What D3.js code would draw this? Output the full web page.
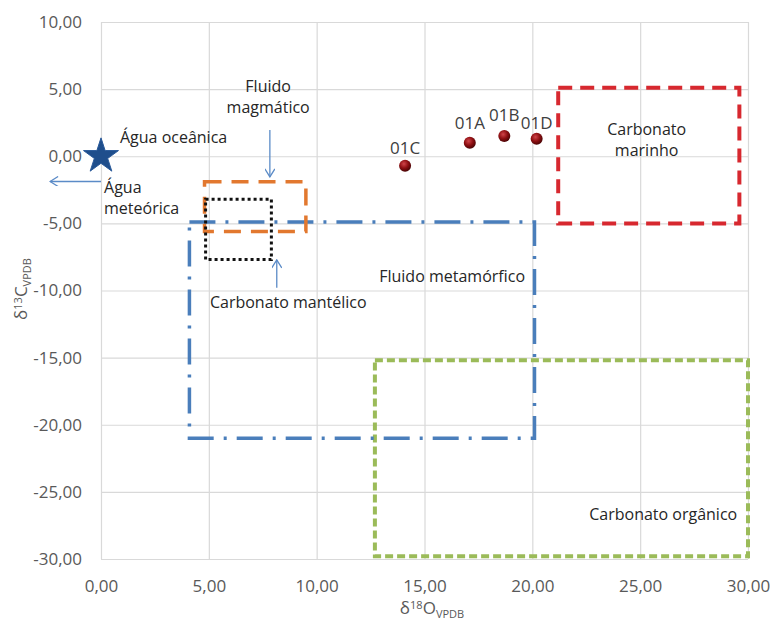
<!DOCTYPE html>
<html>
<head>
<meta charset="utf-8">
<script src="https://cdn.jsdelivr.net/npm/d3@7"></script>
<style>
  body { margin: 0; background: #fff; }
  text { font-family: "Open Sans", "Noto Sans", sans-serif; }
</style>
</head>
<body>
<div class="chart"></div>
<script>
// axis ticks
const xTicks = [0, 5, 10, 15, 20, 25, 30];
const yTicks = [10, 5, 0, -5, -10, -15, -20, -25, -30];

// samples (d18O, d13C)
const sampleNames = ["01C", "01A", "01B", "01D"];
const sampleO = [14.1, 17.1, 18.7, 20.2];
const sampleC = [-0.7, 1.0, 1.5, 1.3];

// reference fields (boxes)
const fieldNames = ["Carbonato marinho", "Carbonato orgânico", "Fluido metamórfico", "Fluido magmático", "Carbonato mantélico"];
const fieldO0 = [21.2, 12.7, 4.1, 4.8, 4.85];
const fieldO1 = [29.6, 30.0, 20.1, 9.5, 7.9];
const fieldC0 = [-5.0, -29.8, -21.0, -5.6, -7.7];
const fieldC1 = [5.1, -15.2, -4.9, -1.9, -3.2];

// ocean water
const oceanO = 0, oceanC = 0;

const width = 772, height = 623;
const svg = d3.select(".chart").append("svg")
  .attr("width", width)
  .attr("height", height);

const x = d3.scaleLinear().domain([0, 30]).range([101, 748]);
const y = d3.scaleLinear().domain([-30, 10]).range([559, 22]);
const fmt = d => d3.format(".2f")(d).replace(".", ",").replace("−", "-");

// gridlines
svg.append("g")
  .attr("transform", `translate(0,${y(-30)})`)
  .call(d3.axisBottom(x).tickValues(xTicks).tickSize(-(y(-30) - y(10))).tickFormat(""))
  .call(g => g.select(".domain").remove())
  .call(g => g.selectAll("line").attr("stroke", "#d9d9d9").attr("stroke-width", 1.2));
svg.append("g")
  .attr("transform", `translate(${x(0)},0)`)
  .call(d3.axisLeft(y).tickValues(yTicks).tickSize(-(x(30) - x(0))).tickFormat(""))
  .call(g => g.select(".domain").remove())
  .call(g => g.selectAll("line").attr("stroke", "#d9d9d9").attr("stroke-width", 1.2));

// tick labels
svg.append("g")
  .attr("transform", `translate(0,${y(-30)})`)
  .call(d3.axisBottom(x).tickValues(xTicks).tickSize(0).tickPadding(21).tickFormat(fmt))
  .call(g => g.select(".domain").remove())
  .call(g => g.selectAll("text").attr("fill", "#595959").style("font-size", "17px"));
svg.append("g")
  .attr("transform", `translate(${x(0)},0)`)
  .call(d3.axisLeft(y).tickValues(yTicks).tickSize(0).tickPadding(19).tickFormat(fmt))
  .call(g => g.select(".domain").remove())
  .call(g => g.selectAll("text").attr("fill", "#595959").style("font-size", "17px"));

// axis titles
const xt = svg.append("text")
  .attr("x", 432).attr("y", 614)
  .attr("text-anchor", "middle")
  .attr("fill", "#595959")
  .style("font-size", "17px");
xt.append("tspan").text("δ");
xt.append("tspan").text("18").attr("dy", -5).style("font-size", "11px");
xt.append("tspan").text("O").attr("dy", 5);
xt.append("tspan").text("VPDB").attr("dy", 4).style("font-size", "11px");

const yt = svg.append("text")
  .attr("transform", "translate(27,289) rotate(-90)")
  .attr("text-anchor", "middle")
  .attr("fill", "#595959")
  .style("font-size", "17px");
yt.append("tspan").text("δ");
yt.append("tspan").text("13").attr("dy", -5).style("font-size", "11px");
yt.append("tspan").text("C").attr("dy", 5);
yt.append("tspan").text("VPDB").attr("dy", 4).style("font-size", "11px");

// field boxes
const boxStyle = [
  { stroke: "#d7282f", width: 4, dash: "14,8" },
  { stroke: "#9bbb59", width: 4, dash: "8,4" },
  { stroke: "#4a7ebb", width: 3.5, dash: "26,10,3,10" },
  { stroke: "#e2782f", width: 3.5, dash: "17,10" },
  { stroke: "#111111", width: 3, dash: "3,3" }
];
svg.append("g")
  .selectAll("rect")
  .data(fieldNames)
  .join("rect")
  .attr("x", (d, i) => x(fieldO0[i]))
  .attr("y", (d, i) => y(fieldC1[i]))
  .attr("width", (d, i) => x(fieldO1[i]) - x(fieldO0[i]))
  .attr("height", (d, i) => y(fieldC0[i]) - y(fieldC1[i]))
  .attr("fill", "none")
  .attr("stroke", (d, i) => boxStyle[i].stroke)
  .attr("stroke-width", (d, i) => boxStyle[i].width)
  .attr("stroke-dasharray", (d, i) => boxStyle[i].dash);

// arrows
const defs = svg.append("defs");
defs.append("marker")
  .attr("id", "head")
  .attr("viewBox", "0 0 10 10")
  .attr("refX", 9).attr("refY", 5)
  .attr("markerWidth", 10).attr("markerHeight", 10)
  .attr("markerUnits", "userSpaceOnUse")
  .attr("orient", "auto")
  .append("path")
  .attr("d", "M1,0 L9,5 L1,10")
  .attr("fill", "none")
  .attr("stroke", "#5b8bc7")
  .attr("stroke-width", 1.3);

const arrows = [
  [7.83, 1.96, 7.83, -1.54],
  [8.15, -9.8, 8.15, -7.72],
  [0, -1.88, -2.36, -1.88]
];
svg.append("g")
  .selectAll("line")
  .data(arrows)
  .join("line")
  .attr("x1", d => x(d[0])).attr("y1", d => y(d[1]))
  .attr("x2", d => x(d[2])).attr("y2", d => y(d[3]))
  .attr("stroke", "#5b8bc7")
  .attr("stroke-width", 1.3)
  .attr("marker-end", "url(#head)");

// ocean water star
svg.append("path")
  .attr("d", d3.symbol(d3.symbolStar, 380)())
  .attr("transform", `translate(${x(oceanO)},${y(oceanC)})`)
  .attr("fill", "#1f4e8c")
  .attr("stroke", "#2a5a9a")
  .attr("stroke-width", 1);

// samples
const grad = defs.append("radialGradient")
  .attr("id", "ball").attr("cx", "40%").attr("cy", "35%").attr("r", "65%");
grad.append("stop").attr("offset", "0%").attr("stop-color", "#d0454a");
grad.append("stop").attr("offset", "55%").attr("stop-color", "#8e0f12");
grad.append("stop").attr("offset", "100%").attr("stop-color", "#4a0405");

svg.append("g")
  .selectAll("circle")
  .data(sampleNames)
  .join("circle")
  .attr("cx", (d, i) => x(sampleO[i]))
  .attr("cy", (d, i) => y(sampleC[i]))
  .attr("r", 6)
  .attr("fill", "url(#ball)");

const labelDy = [-12, -14, -15, -10];
svg.append("g")
  .selectAll("text")
  .data(sampleNames)
  .join("text")
  .attr("x", (d, i) => x(sampleO[i]))
  .attr("y", (d, i) => y(sampleC[i]) + labelDy[i])
  .attr("text-anchor", "middle")
  .attr("fill", "#404040")
  .style("font-size", "17px")
  .text(d => d);

// annotations (data coordinates)
const notes = [
  { t: ["Fluido", "magmático"], o: 7.75, c: 4.8, a: "middle" },
  { t: ["Água oceânica"], o: 0.88, c: 0.99, a: "start" },
  { t: ["Água", "meteórica"], o: 0.14, c: -2.73, a: "start" },
  { t: ["Carbonato mantélico"], o: 5.05, c: -11.3, a: "start" },
  { t: ["Fluido metamórfico"], o: 19.66, c: -9.36, a: "end" },
  { t: ["Carbonato", "marinho"], o: 25.3, c: 1.59, a: "middle" },
  { t: ["Carbonato orgânico"], o: 29.5, c: -27.1, a: "end" }
];
const ng = svg.append("g");
notes.forEach(n => {
  const t = ng.append("text")
    .attr("x", x(n.o)).attr("y", y(n.c))
    .attr("text-anchor", n.a)
    .attr("fill", "#262626")
    .style("font-size", "16px");
  n.t.forEach((s, k) => t.append("tspan").attr("x", x(n.o)).attr("dy", k ? 21 : 0).text(s));
});
</script>
</body>
</html>
